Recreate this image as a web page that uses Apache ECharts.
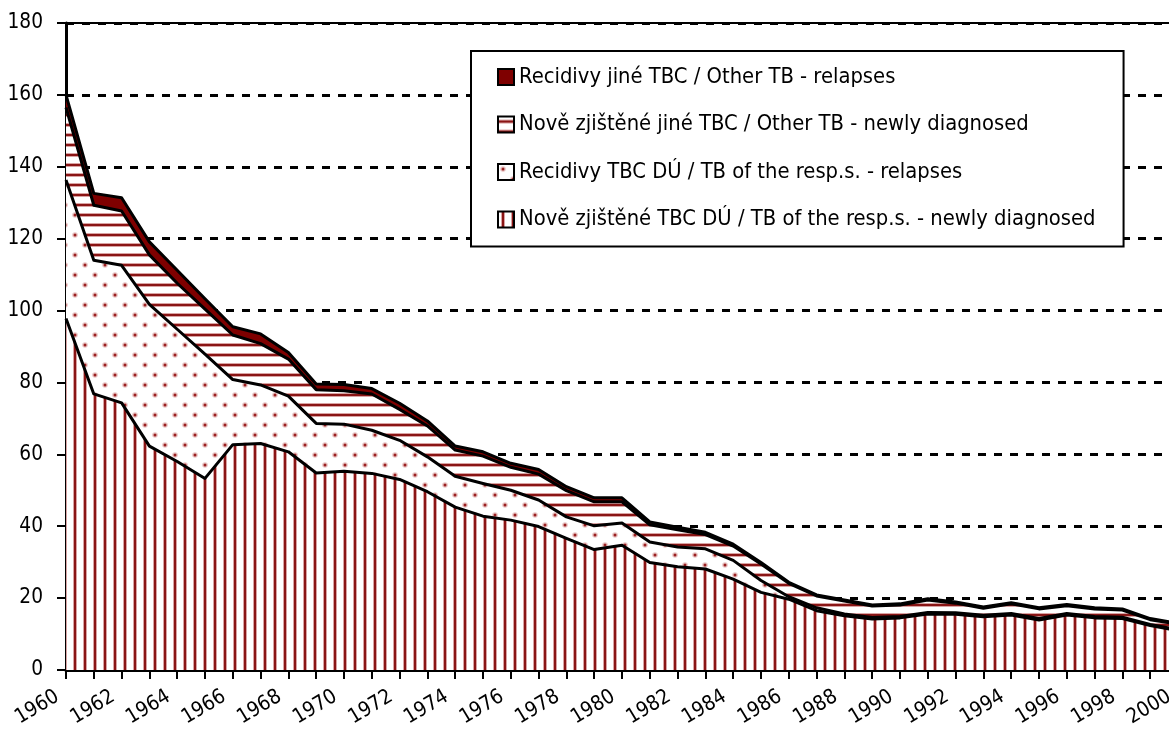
<!DOCTYPE html>
<html>
<head>
<meta charset="utf-8">
<script src="https://cdn.jsdelivr.net/npm/echarts@6/dist/echarts.min.js"></script>
<style>
html,body{margin:0;padding:0;background:#fff;}
#chart{width:1169px;height:736px;}
</style>
</head>
<body>
<div id="chart"></div>
<script>
// ---- DATA ----
const years = ['1960','1961','1962','1963','1964','1965','1966','1967','1968','1969',
  '1970','1971','1972','1973','1974','1975','1976','1977','1978','1979',
  '1980','1981','1982','1983','1984','1985','1986','1987','1988','1989',
  '1990','1991','1992','1993','1994','1995','1996','1997','1998','1999','2000'];

const seriesNames = [
  'Nově zjištěné TBC DÚ / TB of the resp.s. - newly diagnosed',
  'Recidivy TBC DÚ / TB of the resp.s. - relapses',
  'Nově zjištěné jiné TBC / Other TB - newly diagnosed',
  'Recidivy jiné TBC / Other TB - relapses'
];

// Nově zjištěné TBC DÚ (respiratory, newly diagnosed)
const respNew = [97.8,76.8,74.3,62.3,58.0,53.3,62.7,63.0,60.7,54.8,
  55.3,54.7,53.0,49.6,45.3,42.8,41.7,39.9,36.6,33.5,
  34.7,29.9,28.7,28.1,25.3,21.6,19.7,16.5,15.1,14.2,
  14.5,15.6,15.5,14.8,15.3,13.9,15.3,14.5,14.3,12.4,10.9];
// Recidivy TBC DÚ (respiratory, relapses)
const respRel = [38.5,37.2,38.3,39.4,36.8,34.6,18.1,16.3,15.5,13.8,
  13.1,12.0,10.9,9.7,8.6,9.1,8.3,7.4,6.0,6.6,
  6.2,5.7,5.5,5.6,5.2,3.3,0.7,0.8,0.5,0.4,
  0.4,0.4,0.4,0.4,0.4,0.4,0.4,0.4,0.4,0.3,0.3];
// Nově zjištěné jiné TBC (other, newly diagnosed)
const otherNew = [20.2,15.3,15.1,13.8,12.8,12.5,12.4,11.5,10.3,9.4,
  9.3,10.1,8.6,8.6,7.3,7.6,6.4,7.2,7.3,6.7,
  5.9,4.8,4.8,4.0,4.0,4.6,3.7,3.3,3.6,3.2,
  3.2,3.5,2.7,2.0,2.7,2.7,2.2,2.1,2.0,1.3,1.5];
// Recidivy jiné TBC (other, relapses)
const otherRel = [3.5,3.3,3.7,3.6,3.6,2.9,2.3,2.7,1.8,1.6,
  1.7,1.5,1.7,1.4,1.1,1.2,1.1,1.3,1.1,1.1,
  1.1,0.8,0.7,0.6,0.5,0.4,0.3,0.3,0.3,0.3,
  0.3,0.3,0.3,0.3,0.3,0.3,0.3,0.3,0.3,0.3,0.3];

const seriesValues = [respNew, respRel, otherNew, otherRel];

// ---- FONTS ----
const mctx = document.createElement('canvas').getContext('2d');
function available(name){
  const t = 'abcdefghijklmnopqrstuvwxyzABCDEFG0123456789';
  mctx.font = '40px monospace';
  const a = mctx.measureText(t).width;
  mctx.font = '40px "' + name + '", monospace';
  const b = mctx.measureText(t).width;
  return Math.abs(a - b) > 0.5;
}
const FONT = ['Liberation Sans Narrow','Arial Narrow','DejaVu Sans Condensed','Liberation Sans'].find(available) || 'sans-serif';
function sizeFor(text, w){
  mctx.font = '100px "' + FONT + '"';
  return 100 * w / mctx.measureText(text).width;
}
const legendFontSize = sizeFor(seriesNames[0], 577);
const axisFontSize = sizeFor('180', 35.5);

// ---- PATTERNS ----
function tile(w, h, draw){
  const c = document.createElement('canvas');
  c.width = w; c.height = h;
  const g = c.getContext('2d');
  g.fillStyle = '#ffffff';
  g.fillRect(0, 0, w, h);
  draw(g);
  return {image: c, repeat: 'repeat'};
}
const DARK = '#8a1515';
const HALO = '#d9a3a3';
const vStripes = tile(10, 10, g => {
  g.fillStyle = HALO; g.fillRect(3, 0, 1, 10); g.fillRect(6, 0, 1, 10);
  g.fillStyle = DARK; g.fillRect(4, 0, 2, 10);
});
const hStripes = tile(10, 10, g => {
  g.fillStyle = HALO; g.fillRect(0, 3, 10, 1); g.fillRect(0, 6, 10, 1);
  g.fillStyle = DARK; g.fillRect(0, 4, 10, 2);
});
const dots = tile(20, 20, g => {
  [[5,5],[15,15]].forEach(([x,y]) => {
    g.fillStyle = '#e8c2c2'; g.beginPath(); g.arc(x, y, 2.8, 0, Math.PI*2); g.fill();
    g.fillStyle = '#9a2020'; g.beginPath(); g.arc(x, y, 1.5, 0, Math.PI*2); g.fill();
  });
});
const solid = '#7f0000';
const fills = [vStripes, dots, hStripes, solid];

// ---- CHART ----
const chart = echarts.init(document.getElementById('chart'), null, {renderer: 'canvas'});

const series = [];
seriesNames.forEach((name, i) => {
  series.push({
    name: name,
    type: 'line',
    stack: 'areas',
    data: seriesValues[i],
    symbol: 'none',
    silent: true,
    z: 2,
    lineStyle: {width: 0, opacity: 0},
    itemStyle: {color: fills[i]},
    areaStyle: {color: fills[i], opacity: 1}
  });
});
seriesNames.forEach((name, i) => {
  series.push({
    name: name + ' (line)',
    type: 'line',
    stack: 'lines',
    data: seriesValues[i],
    symbol: 'none',
    silent: true,
    z: 3,
    lineStyle: {width: 3, color: '#000', join: 'round'},
    itemStyle: {color: '#000'}
  });
});

const option = {
  backgroundColor: '#fff',
  animation: false,
  textStyle: {fontFamily: FONT, color: '#000'},
  grid: {
    left: 66, top: 23, right: -9, bottom: 66,
    outerBoundsMode: 'none',
    show: true, borderColor: '#000', borderWidth: 2, backgroundColor: 'transparent',
    containLabel: false
  },
  legend: {
    orient: 'vertical',
    left: 471, top: 51,
    selectedMode: false,
    data: [3,2,1,0].map(i => ({
      name: seriesNames[i],
      icon: 'rect',
      itemStyle: {color: fills[i], borderColor: '#000', borderWidth: 2}
    })),
    itemWidth: 16, itemHeight: 16,
    itemGap: 47.3 - Math.max(16, legendFontSize * 1.0),
    padding: [15, 28, 16, 26],
    backgroundColor: '#fff',
    borderColor: '#000', borderWidth: 2,
    textStyle: {fontFamily: FONT, fontSize: legendFontSize, color: '#000'},
    z: 10
  },
  xAxis: {
    type: 'category',
    data: years,
    boundaryGap: false,
    axisLine: {show: true, lineStyle: {color: '#000', width: 3}},
    axisTick: {show: true, interval: 0, length: 9, lineStyle: {color: '#000', width: 2}},
    axisLabel: {
      interval: 1, rotate: 31, margin: 20,
      padding: [0, 10, 0, 0],
      color: '#000', fontFamily: FONT, fontSize: axisFontSize,
      hideOverlap: false
    },
    splitLine: {show: false}
  },
  yAxis: {
    type: 'value',
    min: 0, max: 180, interval: 20,
    axisLine: {show: true, lineStyle: {color: '#000', width: 3}},
    axisTick: {show: true, length: 9, lineStyle: {color: '#000', width: 2}},
    axisLabel: {margin: 23, color: '#000', fontFamily: FONT, fontSize: axisFontSize},
    splitLine: {show: true, lineStyle: {color: '#000', width: 3, type: [8, 8]}}
  },
  series: series
};
chart.setOption(option);
</script>
</body>
</html>
